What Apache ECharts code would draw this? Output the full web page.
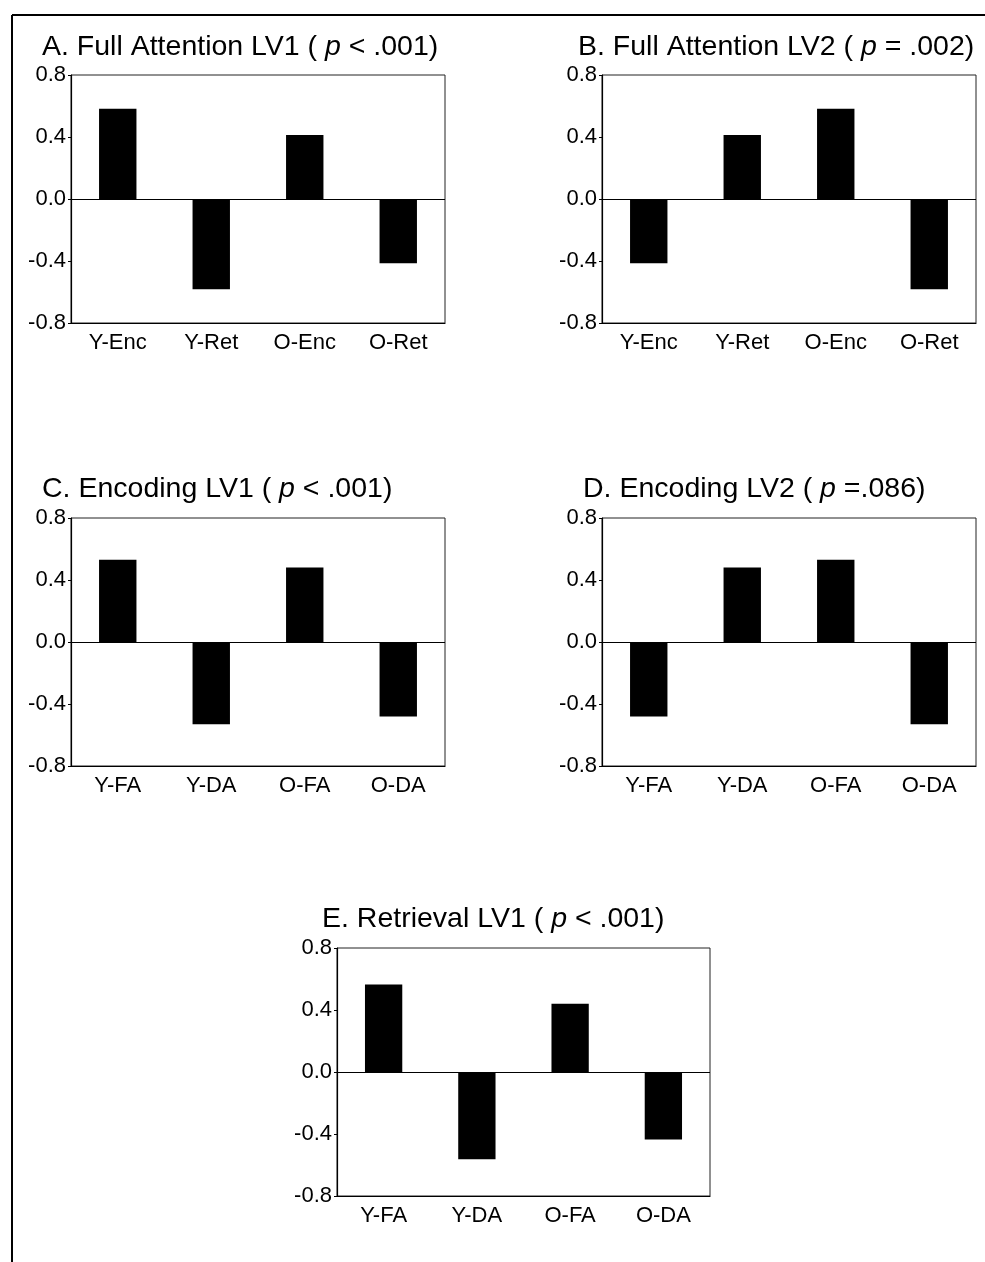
<!DOCTYPE html>
<html>
<head>
<meta charset="utf-8">
<script src="https://cdn.jsdelivr.net/npm/echarts@6/dist/echarts.min.js"></script>
<style>
html,body{margin:0;padding:0;background:#fff;}
#c{width:985px;height:1262px;}
</style>
</head>
<body>
<div id="c"></div>
<script>
// ---- data ----
var catsA = ['Y-Enc', 'Y-Ret', 'O-Enc', 'O-Ret'];
var catsC = ['Y-FA', 'Y-DA', 'O-FA', 'O-DA'];
var valsA = [0.583, -0.583, 0.413, -0.415];
var valsB = [-0.415, 0.413, 0.583, -0.583];
var valsC = [0.53, -0.53, 0.48, -0.48];
var valsD = [-0.48, 0.48, 0.53, -0.53];
var valsE = [0.565, -0.563, 0.44, -0.435];
var titlesPre = ['A. Full Attention LV1 ( ', 'B. Full Attention LV2 ( ', 'C. Encoding LV1 ( ', 'D. Encoding LV2 ( ', 'E. Retrieval LV1 ( '];
var titlesPost = [' < .001)', ' = .002)', ' < .001)', ' =.086)', ' < .001)'];
var yTicks = [-0.8, -0.4, 0.0, 0.4, 0.8];

// ---- layout ----
var FONT = '"Liberation Sans", Arial, Helvetica, sans-serif';
var panels = [
  {cats: catsA, vals: valsA, grid: {left: 71, top: 75, width: 374, height: 248}, title: {left: 42, top: 33}},
  {cats: catsA, vals: valsB, grid: {left: 602, top: 75, width: 374, height: 248}, title: {left: 578, top: 33}},
  {cats: catsC, vals: valsC, grid: {left: 71, top: 518, width: 374, height: 248}, title: {left: 42, top: 475}},
  {cats: catsC, vals: valsD, grid: {left: 602, top: 518, width: 374, height: 248}, title: {left: 583, top: 475}},
  {cats: catsC, vals: valsE, grid: {left: 337, top: 948, width: 373, height: 248}, title: {left: 322, top: 905}}
];

var option = {
  backgroundColor: '#fff',
  animation: false,
  textStyle: {fontFamily: FONT},
  title: [], grid: [], xAxis: [], yAxis: [], series: [],
  graphic: [
    {type: 'line', shape: {x1: 12, y1: 15, x2: 985, y2: 15}, style: {stroke: '#000', lineWidth: 2}},
    {type: 'line', shape: {x1: 12, y1: 15, x2: 12, y2: 1262}, style: {stroke: '#000', lineWidth: 2}}
  ]
};

panels.forEach(function (p, i) {
  option.title.push({
    left: p.title.left, top: p.title.top, padding: 0,
    text: '{n|' + titlesPre[i] + '}{i|p}{n|' + titlesPost[i] + '}',
    textStyle: {
      fontWeight: 'normal',
      rich: {
        n: {fontFamily: FONT, fontSize: 28.5, fontWeight: 'normal', color: '#000'},
        i: {fontFamily: FONT, fontSize: 28.5, fontWeight: 'normal', fontStyle: 'italic', color: '#000'}
      }
    }
  });
  option.grid.push({
    left: p.grid.left, top: p.grid.top, width: p.grid.width, height: p.grid.height,
    show: true, borderColor: '#222', borderWidth: 1, backgroundColor: 'transparent'
  });
  option.xAxis.push({
    type: 'category', gridIndex: i, data: p.cats,
    axisLine: {onZero: false, lineStyle: {color: '#000', width: 1.2}},
    axisTick: {show: false},
    axisLabel: {color: '#000', fontSize: 22, fontFamily: FONT, margin: 9}
  });
  option.yAxis.push({
    type: 'value', gridIndex: i, min: -0.8, max: 0.8, interval: 0.4,
    axisLine: {show: true, lineStyle: {color: '#000', width: 1.2}},
    axisTick: {show: true, length: 3, lineStyle: {color: '#000'}},
    splitLine: {show: false},
    axisLabel: {color: '#000', fontSize: 22, fontFamily: FONT, margin: 5,
      formatter: function (v) { return v.toFixed(1); }}
  });
  option.series.push({
    type: 'bar', xAxisIndex: i, yAxisIndex: i, data: p.vals,
    barWidth: '40%', itemStyle: {color: '#000'},
    markLine: {
      silent: true, symbol: 'none', label: {show: false},
      lineStyle: {color: '#000', width: 1, type: 'solid'},
      data: [{yAxis: yTicks[2]}]
    }
  });
});

var chart = echarts.init(document.getElementById('c'), null, {renderer: 'canvas'});
chart.setOption(option);
</script>
</body>
</html>
